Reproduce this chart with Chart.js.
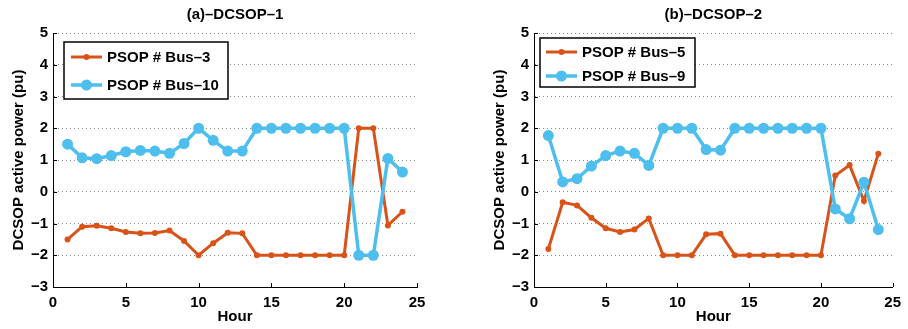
<!DOCTYPE html>
<html>
<head>
<meta charset="utf-8">
<script src="https://cdn.jsdelivr.net/npm/chart.js@4.4.1/dist/chart.umd.min.js"></script>
<style>
    html, body { margin: 0; padding: 0; background: #fff; }
    #quadro { position: relative; width: 908px; height: 329px; }
    .painel { position: absolute; top: 0; width: 454px; height: 329px; }
</style>
</head>
<body>
<div id="quadro">
    <div class="painel" style="left:0"><canvas id="graficoA" width="454" height="329"></canvas></div>
    <div class="painel" style="left:454px"><canvas id="graficoB" width="454" height="329"></canvas></div>
</div>
<script>
var horas = [1, 2, 3, 4, 5, 6, 7, 8, 9, 10, 11, 12, 13, 14, 15, 16, 17, 18, 19, 20, 21, 22, 23, 24];

// (a) DCSOP-1
var bus3 = [-1.5, -1.1, -1.07, -1.15, -1.27, -1.31, -1.3, -1.22, -1.55, -2, -1.62, -1.29, -1.31,
    -2, -2, -2, -2, -2, -2, -2, 2, 2, -1.06, -0.63];
var bus10 = [1.5, 1.07, 1.04, 1.14, 1.26, 1.3, 1.28, 1.21, 1.52, 2, 1.62, 1.28, 1.28,
    2, 2, 2, 2, 2, 2, 2, -2, -2, 1.05, 0.62];

// (b) DCSOP-2
var bus5 = [-1.8, -0.33, -0.43, -0.82, -1.15, -1.27, -1.19, -0.84, -2, -2, -2, -1.34, -1.32,
    -2, -2, -2, -2, -2, -2, -2, 0.51, 0.84, -0.29, 1.2];
var bus9 = [1.77, 0.31, 0.41, 0.81, 1.14, 1.28, 1.21, 0.83, 2, 2, 2, 1.33, 1.31,
    2, 2, 2, 2, 2, 2, 2, -0.54, -0.85, 0.3, -1.19];

var ticksX = [0, 5, 10, 15, 20, 25];
var ticksY = [-3, -2, -1, 0, 1, 2, 3, 4, 5];

var LARANJA = '#D95319';
var AZUL = '#4DBEEE';
var FONTE = "'Liberation Sans', Arial, Helvetica, sans-serif";

function pontos(valores) {
    return horas.map(function (h, i) { return { x: h, y: valores[i] }; });
}

function sinal(v) {
    return String(v).replace('-', '\u2212');
}

// ticks para dentro e legenda com moldura, como no MATLAB
var pluginMoldura = {
    id: 'moldura',
    afterDraw: function (chart, args, opts) {
        var ctx = chart.ctx;
        var area = chart.chartArea;
        var escX = chart.scales.x;
        var escY = chart.scales.y;

        ctx.save();
        ctx.strokeStyle = '#000';
        ctx.lineWidth = 1;
        ticksX.forEach(function (v) {
            var px = Math.round(escX.getPixelForValue(v)) + 0.5;
            ctx.beginPath();
            ctx.moveTo(px, area.bottom);
            ctx.lineTo(px, area.bottom - 4);
            ctx.stroke();
        });
        ticksY.forEach(function (v) {
            var py = Math.round(escY.getPixelForValue(v)) + 0.5;
            ctx.beginPath();
            ctx.moveTo(area.left, py);
            ctx.lineTo(area.left + 4, py);
            ctx.stroke();
        });

        var lx = area.left + opts.dx;
        var ly = area.top + opts.dy;
        ctx.fillStyle = '#fff';
        ctx.fillRect(lx, ly, opts.largura, opts.altura);
        ctx.lineWidth = 1.5;
        ctx.strokeRect(lx, ly, opts.largura, opts.altura);

        ctx.font = 'bold 15px ' + FONTE;
        ctx.textBaseline = 'middle';
        chart.data.datasets.forEach(function (ds, i) {
            var cy = ly + opts.primeira + i * opts.passo;
            var x0 = lx + opts.recuo;
            ctx.strokeStyle = ds.borderColor;
            ctx.lineWidth = ds.borderWidth;
            ctx.beginPath();
            ctx.moveTo(x0, cy);
            ctx.lineTo(x0 + 31, cy);
            ctx.stroke();
            ctx.fillStyle = ds.pointBackgroundColor;
            ctx.beginPath();
            ctx.arc(x0 + 15.5, cy, ds.pointRadius, 0, Math.PI * 2);
            ctx.fill();
            ctx.fillStyle = '#000';
            ctx.fillText(ds.label, x0 + 36, cy + 1);
        });
        ctx.restore();
    }
};

function criarGrafico(id, titulo, nomes, series, legenda, margem) {
    var contexto = document.getElementById(id).getContext('2d');

    new Chart(contexto, {
        type: 'line',
        data: {
            datasets: [{
                label: nomes[0],
                data: pontos(series[0]),
                borderColor: LARANJA,
                backgroundColor: LARANJA,
                pointBackgroundColor: LARANJA,
                pointBorderWidth: 0,
                pointRadius: 3,
                borderWidth: 3,
                tension: 0,
                order: 1
            }, {
                label: nomes[1],
                data: pontos(series[1]),
                borderColor: AZUL,
                backgroundColor: AZUL,
                pointBackgroundColor: AZUL,
                pointBorderWidth: 0,
                pointRadius: 5.5,
                borderWidth: 3.5,
                tension: 0,
                order: 0
            }]
        },
        options: {
            responsive: false,
            animation: false,
            layout: { padding: { left: margem[0], right: margem[1], top: 0, bottom: 0 } },
            scales: {
                x: {
                    type: 'linear',
                    min: 0,
                    max: 25,
                    afterBuildTicks: function (esc) {
                        esc.ticks = ticksX.map(function (v) { return { value: v }; });
                    },
                    afterFit: function (esc) { esc.height = 42; },
                    ticks: {
                        color: '#000',
                        padding: 7,
                        maxRotation: 0,
                        font: { size: 15, weight: 'bold', family: FONTE },
                        callback: sinal
                    },
                    grid: { display: false, drawTicks: false },
                    border: { display: true, color: '#000', width: 1 },
                    title: {
                        display: true,
                        text: 'Hour',
                        color: '#000',
                        padding: { top: 0, bottom: 3 },
                        font: { size: 15, weight: 'bold', family: FONTE }
                    }
                },
                y: {
                    min: -3,
                    max: 5,
                    afterBuildTicks: function (esc) {
                        esc.ticks = ticksY.map(function (v) { return { value: v }; });
                    },
                    afterFit: function (esc) { esc.width = 53; },
                    ticks: {
                        color: '#000',
                        padding: 5,
                        font: { size: 15, weight: 'bold', family: FONTE },
                        callback: sinal
                    },
                    grid: {
                        drawTicks: false,
                        lineWidth: 1,
                        color: function (c) {
                            return c.tick && c.tick.value === -3 ? 'rgba(0,0,0,0)' : '#8c8c8c';
                        }
                    },
                    border: { display: true, color: '#000', width: 1, dash: [1, 3] },
                    title: {
                        display: true,
                        text: 'DCSOP active power (pu)',
                        color: '#000',
                        padding: { top: 10, bottom: 0 },
                        font: { size: 15, weight: 'bold', family: FONTE }
                    }
                }
            },
            plugins: {
                legend: { display: false },
                tooltip: { enabled: false },
                title: {
                    display: true,
                    text: titulo,
                    fullSize: false,
                    color: '#000',
                    padding: { top: 6, bottom: 9 },
                    font: { size: 15, weight: 'bold', family: FONTE }
                },
                moldura: legenda
            }
        },
        plugins: [pluginMoldura]
    });
}

criarGrafico('graficoA', '(a)\u2013DCSOP\u20131', ['PSOP # Bus\u20133', 'PSOP # Bus\u201310'], [bus3, bus10],
    { dx: 11, dy: 9, largura: 164, altura: 57, primeira: 15, passo: 28, recuo: 7 }, [0, 37]);

criarGrafico('graficoB', '(b)\u2013DCSOP\u20132', ['PSOP # Bus\u20135', 'PSOP # Bus\u20139'], [bus5, bus9],
    { dx: 6, dy: 5, largura: 155, altura: 49, primeira: 14, passo: 24, recuo: 6 }, [27, 10]);
</script>
</body>
</html>
